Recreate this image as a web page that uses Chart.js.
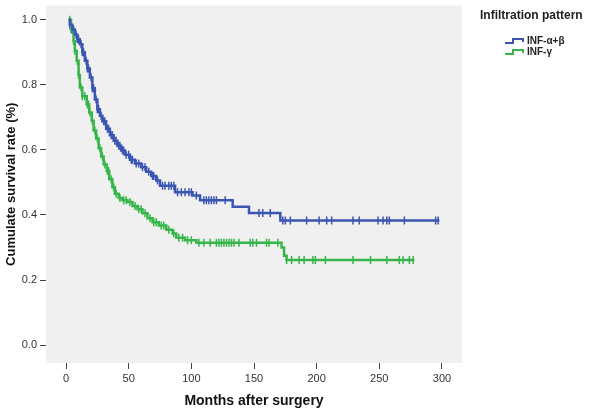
<!DOCTYPE html>
<html>
<head>
<meta charset="utf-8">
<script src="https://cdn.jsdelivr.net/npm/chart.js@4.4.1/dist/chart.umd.min.js"></script>
<style>
  body { margin: 0; background: #fff; }
  #wrap { width: 600px; height: 415px; }
</style>
</head>
<body>
<div id="wrap"><canvas id="kmChart" width="600" height="415"></canvas></div>
<script>
// Kaplan-Meier steps: month of event and survival after it
const seriesNames = ['INF-\u03b1+\u03b2', 'INF-\u03b3'];
const legendTitle = 'Infiltration pattern';

const abMonths = [2, 3, 5, 7, 9, 11, 13, 15, 17, 19, 21, 23, 25, 27, 29, 32, 35, 38, 41, 44, 47, 51, 55, 60, 64, 68, 72, 75, 87, 101, 107, 133, 146, 171, 298];
const abSurvival = [1.0, 0.985, 0.97, 0.955, 0.94, 0.925, 0.9, 0.874, 0.85, 0.823, 0.79, 0.755, 0.725, 0.705, 0.688, 0.665, 0.645, 0.628, 0.613, 0.598, 0.585, 0.57, 0.558, 0.547, 0.533, 0.52, 0.506, 0.49, 0.47, 0.46, 0.445, 0.425, 0.406, 0.383, 0.383];
const abCensored = [3, 4, 5, 6, 8, 9, 10, 12, 13, 14, 16, 17, 18, 20, 21, 22, 24, 25, 26, 28, 30, 31, 33, 34, 36, 37, 39, 40, 42, 43, 45, 46, 48, 50, 52, 53, 56, 58, 61, 63, 66, 69, 70, 73, 77, 79, 82, 84, 86, 89, 92, 95, 98, 100, 104, 110, 112, 114, 116, 118, 120, 127, 154, 157, 163, 173, 175, 179, 192, 202, 208, 212, 229, 234, 249, 253, 256, 258, 270, 295, 297];

const gMonths = [2, 4, 6, 7, 8.5, 10, 11, 13, 16.5, 18.5, 20.5, 22, 24, 26, 28, 30, 32.5, 34.5, 37, 39, 42, 45, 49, 53, 57, 61, 65, 69, 74, 80, 85, 88, 95, 104, 172, 174, 176, 278];
const gSurvival = [1.0, 0.97, 0.935, 0.905, 0.874, 0.83, 0.792, 0.765, 0.74, 0.715, 0.69, 0.66, 0.635, 0.605, 0.58, 0.555, 0.535, 0.51, 0.485, 0.465, 0.452, 0.445, 0.44, 0.428, 0.418, 0.405, 0.39, 0.378, 0.368, 0.355, 0.343, 0.33, 0.322, 0.315, 0.3, 0.275, 0.262, 0.262];
const gCensored = [3, 4, 5, 6, 7, 9, 10, 12, 13, 15, 17, 18, 19, 21, 23, 25, 27, 29, 31, 33, 34, 36, 38, 40, 43, 46, 48, 51, 55, 58, 60, 63, 67, 70, 72, 76, 78, 82, 86, 90, 93, 97, 100, 106, 110, 115, 120, 122, 124, 126, 128, 130, 132, 134, 138, 147, 149, 152, 160, 162, 169, 176, 180, 186, 190, 197, 199, 207, 229, 243, 256, 266, 269, 274, 277];

const xTicks = [0, 50, 100, 150, 200, 250, 300];
const yTicks = [0, 0.2, 0.4, 0.6, 0.8, 1.0];

const blue = '#3b55b3';
const green = '#36b64a';

// survival value of the step curve at month t
function survAt(months, surv, t) {
    let s = surv[0];
    for (let i = 0; i < months.length; i++) {
        if (months[i] <= t) s = surv[i];
    }
    return s;
}

const toPoints = (months, surv) => months.map((t, i) => ({ x: t, y: surv[i] }));
const toCensor = (cens, months, surv) => cens.map(t => ({ x: t, y: survAt(months, surv, t) }));

const lineStyle = color => ({
    borderColor: color,
    borderWidth: 2.5,
    showLine: true,
    stepped: true,
    pointRadius: 0,
    fill: false
});
const censorStyle = color => ({
    borderColor: color,
    backgroundColor: color,
    showLine: false,
    pointStyle: 'line',
    rotation: 90,
    pointRadius: 4,
    pointBorderWidth: 1.5
});

// grey plot background
const plotBg = {
    id: 'plotBg',
    beforeDraw(chart) {
        const { ctx, chartArea: a } = chart;
        ctx.save();
        ctx.fillStyle = '#f0f0f0';
        ctx.fillRect(a.left, a.top, a.right - a.left, a.bottom - a.top);
        ctx.restore();
    }
};

// legend with step icons, like SPSS
const stepLegend = {
    id: 'stepLegend',
    afterDraw(chart) {
        const ctx = chart.ctx;
        ctx.save();
        ctx.fillStyle = '#222';
        ctx.font = 'bold 12px "Liberation Sans", Arial, sans-serif';
        ctx.textBaseline = 'middle';
        ctx.fillText(legendTitle, 480, 16);
        const colors = [blue, green];
        ctx.font = 'bold 10px "Liberation Sans", Arial, sans-serif';
        seriesNames.forEach((name, i) => {
            const y = 41 + i * 11;
            ctx.strokeStyle = colors[i];
            ctx.lineWidth = 2;
            ctx.beginPath();
            ctx.moveTo(505, y + 2);
            ctx.lineTo(513, y + 2);
            ctx.lineTo(513, y - 2);
            ctx.lineTo(523, y - 2);
            ctx.lineTo(523, y + 1);
            ctx.stroke();
            ctx.fillStyle = '#222';
            ctx.fillText(name, 527, y);
        });
        ctx.restore();
    }
};

new Chart(document.getElementById('kmChart').getContext('2d'), {
    type: 'scatter',
    data: {
        datasets: [
            { label: seriesNames[0], data: toPoints(abMonths, abSurvival), ...lineStyle(blue) },
            { label: seriesNames[1], data: toPoints(gMonths, gSurvival), ...lineStyle(green) },
            { label: seriesNames[0] + ' censored', data: toCensor(abCensored, abMonths, abSurvival), ...censorStyle(blue) },
            { label: seriesNames[1] + ' censored', data: toCensor(gCensored, gMonths, gSurvival), ...censorStyle(green) }
        ]
    },
    options: {
        responsive: false,
        animation: false,
        layout: { padding: { left: 0, top: 2, right: 138, bottom: 0 } },
        plugins: {
            legend: { display: false },
            tooltip: { enabled: false }
        },
        scales: {
            x: {
                type: 'linear',
                min: -16,
                max: 316,
                afterBuildTicks: scale => { scale.ticks = xTicks.map(v => ({ value: v })); },
                afterFit: scale => { scale.height = 52; },
                border: { display: false },
                grid: { drawOnChartArea: false, drawTicks: true, tickLength: 6, color: '#444' },
                ticks: {
                    color: '#333',
                    padding: 3,
                    maxRotation: 0,
                    font: { family: '"Liberation Sans", Arial, sans-serif', size: 11 }
                },
                title: {
                    display: true,
                    text: 'Months after surgery',
                    color: '#111',
                    padding: { top: 5, bottom: 5 },
                    font: { family: '"Liberation Sans", Arial, sans-serif', size: 14, weight: 'bold' }
                }
            },
            y: {
                type: 'linear',
                min: -0.055,
                max: 1.044,
                afterBuildTicks: scale => { scale.ticks = yTicks.map(v => ({ value: v })); },
                afterFit: scale => { scale.width = 46; },
                border: { display: false },
                grid: { drawOnChartArea: false, drawTicks: true, tickLength: 6, color: '#444' },
                ticks: {
                    color: '#333',
                    padding: 3,
                    callback: v => v.toFixed(1),
                    font: { family: '"Liberation Sans", Arial, sans-serif', size: 11, lineHeight: 0.3 }
                },
                title: {
                    display: true,
                    text: 'Cumulate survival rate (%)',
                    color: '#111',
                    padding: { top: 4, bottom: 4 },
                    font: { family: '"Liberation Sans", Arial, sans-serif', size: 13, weight: 'bold' }
                }
            }
        }
    },
    plugins: [plotBg, stepLegend]
});
</script>
</body>
</html>
